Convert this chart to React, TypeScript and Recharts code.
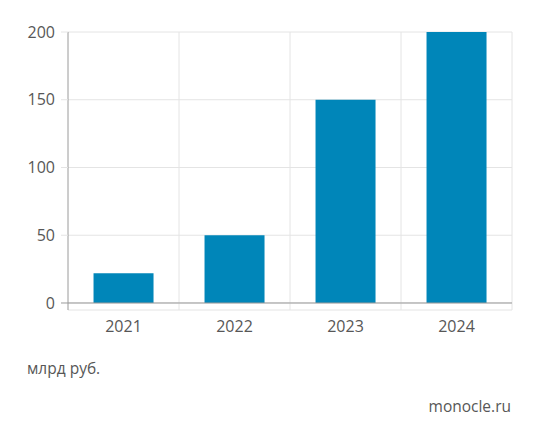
import { BarChart, Bar, XAxis, YAxis, CartesianGrid, ReferenceLine } from "recharts";

const years = ["2021", "2022", "2023", "2024"];
const values = [22, 50, 150, 200];
const yTicks = [0, 50, 100, 150, 200];

const FONT = "'Open Sans', sans-serif";
const TEXT = "#575757";
const GRID = "#e4e4e4";
const AXIS = "#9a9a9a";
const BAR = "#0086b9";

const TICK_SIZE = 7;
const TICK_MARGIN = 6;

const data = years.map((year, i) => ({ year, value: values[i] }));

function YTick(props: any) {
  const { x, y, payload } = props;
  const lineStart = x + TICK_MARGIN;
  return (
    <g>
      <line
        x1={lineStart}
        x2={lineStart + TICK_SIZE}
        y1={y}
        y2={y}
        stroke={payload.value === 0 ? AXIS : GRID}
        strokeWidth={1}
      />
      <text x={x} y={y} dy="0.35em" textAnchor="end" fill={TEXT} fontSize={16} fontFamily={FONT}>
        {payload.value}
      </text>
    </g>
  );
}

export default function App() {
  return (
    <div style={{ position: "absolute", left: 0, top: 0, width: 540, height: 439, background: "#fff" }}>
      <BarChart
        width={540}
        height={345}
        data={data}
        margin={{ top: 32, right: 28, left: 0, bottom: 0 }}
        barCategoryGap="23%"
      >
        <CartesianGrid vertical={false} stroke={GRID} />
        <XAxis
          dataKey="year"
          axisLine={false}
          tickLine={false}
          tickMargin={5}
          height={35}
          tick={{ fill: TEXT, fontSize: 16, fontFamily: FONT }}
        />
        <YAxis
          domain={[-5.17, 200]}
          ticks={yTicks}
          allowDataOverflow
          width={68}
          tickSize={TICK_SIZE}
          tickMargin={TICK_MARGIN}
          tickLine={false}
          axisLine={{ stroke: AXIS }}
          tick={<YTick />}
        />
        {years.slice(1).map((year) => (
          <ReferenceLine key={year} x={year} position="start" stroke={GRID} />
        ))}
        <ReferenceLine x={years[years.length - 1]} position="end" stroke={GRID} />
        <ReferenceLine y={0} stroke={AXIS} />
        <Bar dataKey="value" fill={BAR} isAnimationActive={false} />
      </BarChart>
      <div
        style={{
          position: "absolute",
          left: 27,
          top: 357,
          fontFamily: FONT,
          fontSize: 15.5,
          color: TEXT,
        }}
      >
        млрд руб.
      </div>
      <div
        style={{
          position: "absolute",
          right: 29,
          top: 395,
          fontFamily: FONT,
          fontSize: 15.5,
          color: TEXT,
        }}
      >
        monocle.ru
      </div>
    </div>
  );
}
